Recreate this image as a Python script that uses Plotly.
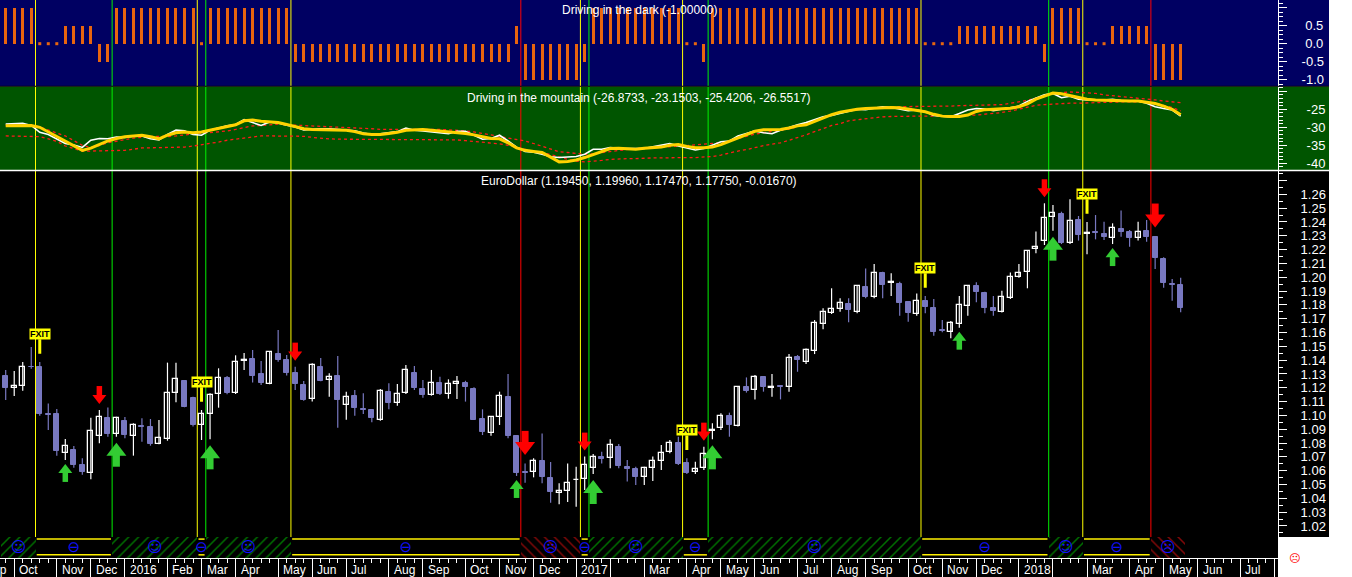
import pandas as pd
import plotly.graph_objects as go

# ---------------- data ----------------
DATES = pd.date_range("2015-09-25", periods=139, freq="W-FRI")

OPEN = [1.1285, 1.1196, 1.1215, 1.1353, 1.1350, 1.1010, 1.1010, 1.0730, 1.0750, 1.0641,
        1.0586, 1.0854, 1.0981, 1.0863, 1.0960, 1.0854, 1.0924, 1.0916, 1.0793, 1.0827,
        1.1160, 1.1249, 1.1126, 1.0928, 1.1008, 1.1153, 1.1271, 1.1160, 1.1391, 1.1408,
        1.1300, 1.1230, 1.1444, 1.1401, 1.1309, 1.1220, 1.1116, 1.1350, 1.1256, 1.1285,
        1.1073, 1.1140, 1.1046, 1.1039, 1.0967, 1.1167, 1.1087, 1.1160, 1.1307, 1.1191,
        1.1148, 1.1232, 1.1155, 1.1225, 1.1232, 1.1191, 1.0972, 1.0875, 1.0986, 1.1133,
        1.0851, 1.0588, 1.0593, 1.0668, 1.0547, 1.0436, 1.0453, 1.0530, 1.0537, 1.0617,
        1.0697, 1.0690, 1.0774, 1.0624, 1.0610, 1.0557, 1.0617, 1.0673, 1.0738, 1.0798,
        1.0653, 1.0593, 1.0617, 1.0890, 1.0907, 1.0996, 1.0924, 1.1203, 1.1184, 1.1275,
        1.1201, 1.1210, 1.1203, 1.1420, 1.1389, 1.1469, 1.1662, 1.1739, 1.1768, 1.1804,
        1.1751, 1.1927, 1.1854, 1.2033, 1.1956, 1.1951, 1.1818, 1.1731, 1.1827, 1.1775,
        1.1616, 1.1606, 1.1662, 1.1792, 1.1936, 1.1888, 1.1775, 1.1751, 1.1847, 1.2004,
        1.2035, 1.2202, 1.2265, 1.2433, 1.2455, 1.2250, 1.2414, 1.2311, 1.2325, 1.2313,
        1.2281, 1.2346, 1.2330, 1.2281, 1.2334, 1.2293, 1.2129, 1.1951, 1.1945]
HIGH = [1.1329, 1.1321, 1.1387, 1.1495, 1.1387, 1.1087, 1.1046, 1.0829, 1.0779, 1.0690,
        1.0984, 1.1039, 1.1058, 1.0991, 1.0989, 1.0943, 1.0979, 1.0974, 1.0967, 1.1382,
        1.1382, 1.1256, 1.1136, 1.1039, 1.1160, 1.1341, 1.1285, 1.1435, 1.1452, 1.1473,
        1.1394, 1.1461, 1.1618, 1.1437, 1.1353, 1.1249, 1.1377, 1.1415, 1.1305, 1.1430,
        1.1172, 1.1184, 1.1160, 1.1044, 1.1191, 1.1232, 1.1227, 1.1365, 1.1358, 1.1256,
        1.1329, 1.1280, 1.1261, 1.1285, 1.1251, 1.1203, 1.1044, 1.0991, 1.1172, 1.1300,
        1.0851, 1.0653, 1.0690, 1.0870, 1.0663, 1.0509, 1.0653, 1.0629, 1.0702, 1.0721,
        1.0738, 1.0827, 1.0793, 1.0677, 1.0629, 1.0629, 1.0702, 1.0786, 1.0822, 1.0846,
        1.0690, 1.0665, 1.0774, 1.0943, 1.1015, 1.1020, 1.1213, 1.1275, 1.1292, 1.1285,
        1.1300, 1.1220, 1.1444, 1.1437, 1.1485, 1.1690, 1.1775, 1.1920, 1.1847, 1.1847,
        1.1944, 1.2064, 1.2096, 1.2040, 1.2028, 1.1968, 1.1823, 1.1883, 1.1864, 1.1842,
        1.1690, 1.1683, 1.1864, 1.1944, 1.1963, 1.1895, 1.1864, 1.1903, 1.2035, 1.2096,
        1.2197, 1.2330, 1.2535, 1.2522, 1.2474, 1.2564, 1.2443, 1.2400, 1.2450, 1.2402,
        1.2390, 1.2482, 1.2342, 1.2402, 1.2414, 1.2298, 1.2144, 1.1987, 1.1996]
LOW = [1.1112, 1.1140, 1.1179, 1.1338, 1.0998, 1.0894, 1.0709, 1.0678, 1.0622, 1.0571,
       1.0538, 1.0798, 1.0846, 1.0846, 1.0834, 1.0709, 1.0810, 1.0781, 1.0791, 1.0817,
       1.1095, 1.1059, 1.0919, 1.0822, 1.0827, 1.1056, 1.1153, 1.1155, 1.1329, 1.1239,
       1.1220, 1.1225, 1.1389, 1.1288, 1.1184, 1.1107, 1.1100, 1.1247, 1.1136, 1.0911,
       1.0969, 1.0998, 1.1010, 1.0950, 1.0962, 1.1044, 1.1070, 1.1155, 1.1184, 1.1128,
       1.1143, 1.1148, 1.1121, 1.1119, 1.1100, 1.0967, 1.0858, 1.0853, 1.0931, 1.0834,
       1.0562, 1.0513, 1.0552, 1.0509, 1.0369, 1.0357, 1.0374, 1.0340, 1.0460, 1.0576,
       1.0653, 1.0617, 1.0617, 1.0521, 1.0497, 1.0497, 1.0526, 1.0605, 1.0726, 1.0641,
       1.0576, 1.0576, 1.0605, 1.0827, 1.0894, 1.0846, 1.0919, 1.1165, 1.1116, 1.1172,
       1.1136, 1.1116, 1.1172, 1.1316, 1.1372, 1.1444, 1.1623, 1.1734, 1.1751, 1.1674,
       1.1739, 1.1847, 1.1847, 1.1847, 1.1864, 1.1722, 1.1678, 1.1722, 1.1739, 1.1577,
       1.1601, 1.1558, 1.1635, 1.1722, 1.1818, 1.1739, 1.1722, 1.1744, 1.1842, 1.1997,
       1.1920, 1.2173, 1.2233, 1.2337, 1.2240, 1.2240, 1.2265, 1.2166, 1.2274, 1.2269,
       1.2240, 1.2293, 1.2221, 1.2265, 1.2257, 1.2060, 1.1924, 1.1830, 1.1747]
CLOSE = [1.1201, 1.1213, 1.1353, 1.1348, 1.1013, 1.1005, 1.0745, 1.0776, 1.0641, 1.0593,
         1.0885, 1.0991, 1.0868, 1.0979, 1.0858, 1.0928, 1.0916, 1.0793, 1.0834, 1.1160,
         1.1261, 1.1063, 1.0931, 1.1008, 1.1150, 1.1268, 1.1165, 1.1384, 1.1398, 1.1288,
         1.1237, 1.1457, 1.1401, 1.1309, 1.1230, 1.1112, 1.1362, 1.1251, 1.1276, 1.1114,
         1.1136, 1.1056, 1.1039, 1.0979, 1.1174, 1.1087, 1.1157, 1.1326, 1.1201, 1.1148,
         1.1232, 1.1153, 1.1225, 1.1242, 1.1208, 1.0969, 1.0882, 1.0986, 1.1140, 1.0851,
         1.0586, 1.0583, 1.0668, 1.0557, 1.0446, 1.0455, 1.0513, 1.0535, 1.0639, 1.0697,
         1.0682, 1.0784, 1.0636, 1.0610, 1.0557, 1.0622, 1.0668, 1.0730, 1.0798, 1.0649,
         1.0586, 1.0610, 1.0721, 1.0897, 1.0996, 1.0931, 1.1203, 1.1179, 1.1280, 1.1203,
         1.1206, 1.1203, 1.1418, 1.1401, 1.1473, 1.1666, 1.1751, 1.1768, 1.1816, 1.1763,
         1.1936, 1.1859, 1.2033, 1.1944, 1.1963, 1.1816, 1.1744, 1.1827, 1.1787, 1.1606,
         1.1609, 1.1666, 1.1799, 1.1936, 1.1895, 1.1775, 1.1758, 1.1854, 1.1999, 1.2033,
         1.2190, 1.2221, 1.2426, 1.2467, 1.2245, 1.2409, 1.2303, 1.2318, 1.2318, 1.2293,
         1.2354, 1.2330, 1.2286, 1.2330, 1.2293, 1.2137, 1.1961, 1.1946, 1.1775]

# "Driving in the dark" histogram values
DARK = [1, 1, 1, 1, 0, 0, 0, .5, .5, .5,
        .5, -.5, -.5, 1, 1, 1, 1, 1, 1, 1,
        1, 1, 1, 0, 1, 1, 1, 1, 1, 1,
        1, 1, 1, 1, -.5, -.5, -.5, -.5, -.5, -.5,
        -.5, -.5, -.5, -.5, -.5, -.5, -.5, -.5, -.5, -.5,
        -.5, -.5, -.5, -.5, -.5, -.5, -.5, -.5, -.5, -.5,
        .5, -1, -1, -1, -1, -1, -1, -1, -.5, 1,
        1, 1, 1, 1, 1, 1, 1, 1, 1, 1,
        0, 0, -.5, 1, 1, 1, 1, 1, 1, 1,
        1, 1, 1, 1, 1, 1, 1, 1, 1, 1,
        1, 1, 1, 1, 1, 1, 1, 1, 0, 0,
        0, 0, .5, .5, .5, .5, .5, .5, .5, .5,
        .5, .5, -.5, 1, 1, 1, 1, 0, 0, 0,
        .5, .5, .5, .5, .5, -1, -1, -1, -1]

# "Driving in the mountain" lines
MTN_WHITE = [-29.1, -29.0, -28.9, -29.5, -31.4, -32.0, -33.3, -34.5, -34.9, -35.6,
             -33.6, -33.1, -33.2, -32.7, -32.8, -32.4, -32.4, -33.2, -33.5, -32.0,
             -30.8, -31.0, -32.0, -32.2, -30.8, -30.1, -29.6, -29.2, -27.9, -28.7,
             -29.5, -28.5, -28.8, -29.4, -29.9, -30.7, -30.5, -30.4, -30.4, -30.6,
             -30.7, -31.0, -31.6, -32.0, -31.8, -31.6, -31.2, -30.2, -30.8, -31.0,
             -31.2, -31.5, -31.8, -31.1, -31.1, -32.2, -33.3, -33.1, -32.2, -33.8,
             -35.5, -36.7, -36.9, -37.5, -38.2, -38.4, -38.3, -38.1, -37.5, -36.1,
             -36.1, -35.6, -35.8, -35.9, -35.9, -35.9, -35.4, -34.9, -34.5, -35.2,
             -35.8, -36.3, -35.9, -34.9, -34.0, -33.8, -32.4, -31.7, -31.0, -31.5,
             -31.8, -30.8, -30.0, -29.3, -28.7, -27.8, -27.1, -26.7, -26.1, -25.6,
             -25.0, -25.1, -24.6, -24.3, -24.5, -25.0, -25.4, -25.2, -25.7, -26.7,
             -26.9, -27.1, -26.2, -25.2, -24.8, -24.9, -25.4, -25.0, -24.5, -24.1,
             -22.8, -21.9, -21.0, -20.6, -21.8, -21.4, -22.2, -22.4, -22.5, -22.4,
             -22.2, -22.6, -22.7, -22.7, -23.3, -24.3, -24.8, -25.2, -26.87]
MTN_YELLOW = [-29.6, -29.6, -29.5, -29.5, -30.0, -31.3, -32.6, -33.8, -35.0, -36.4,
              -35.8, -34.8, -33.8, -33.1, -32.6, -32.4, -32.2, -32.6, -33.2, -32.2,
              -31.5, -31.3, -31.5, -31.3, -30.8, -30.2, -29.8, -29.3, -28.2, -28.0,
              -28.3, -28.5, -28.7, -29.2, -29.7, -30.4, -30.6, -30.6, -30.6, -30.6,
              -30.8, -31.2, -31.8, -32.0, -32.0, -31.7, -31.4, -30.8, -30.6, -30.6,
              -30.8, -31.0, -31.3, -31.5, -31.7, -32.1, -32.6, -33.1, -33.2, -34.3,
              -35.7, -36.4, -36.7, -37.0, -38.3, -39.6, -39.5, -39.1, -38.4, -37.5,
              -36.7, -35.9, -35.8, -35.9, -36.1, -35.8, -35.7, -35.5, -35.0, -34.8,
              -35.3, -35.7, -35.7, -35.5, -34.8, -33.9, -32.9, -31.9, -31.1, -30.7,
              -30.6, -30.6, -30.2, -29.6, -29.3, -28.3, -27.4, -26.5, -25.8, -25.3,
              -25.0, -24.8, -24.7, -24.5, -24.5, -24.6, -25.0, -25.2, -25.7, -26.4,
              -26.9, -27.0, -27.0, -26.6, -25.6, -25.1, -25.0, -24.9, -24.7, -24.3,
              -23.5, -22.2, -21.3, -20.5, -20.7, -21.2, -21.8, -22.2, -22.4, -22.5,
              -22.7, -22.7, -22.7, -22.7, -23.0, -23.4, -24.1, -25.0, -26.55]
MTN_RED_A = [-29.5, -29.5, -29.5, -29.5, -29.9, -30.8, -31.6, -32.4, -33.7, -35.0,
             -35.6, -35.1, -34.3, -33.8, -33.3, -33.0, -32.8, -32.5, -32.5, -32.6,
             -32.4, -32.1, -31.9, -31.6, -31.5, -31.3, -31.0, -30.6, -30.1, -29.6,
             -29.5, -29.2, -29.1, -29.3, -29.4, -29.5, -29.6, -29.6, -29.8, -30.0,
             -30.1, -30.2, -30.3, -30.4, -30.6, -30.6, -30.5, -30.4, -30.4, -30.5,
             -30.6, -30.6, -30.7, -30.8, -31.0, -31.3, -31.7, -32.0, -32.4, -32.9,
             -33.3, -33.8, -34.5, -35.2, -36.1, -36.8, -37.0, -37.3, -37.5, -37.3,
             -37.0, -36.8, -36.5, -36.2, -35.9, -35.8, -35.7, -35.6, -35.5, -35.3,
             -35.1, -34.9, -34.7, -34.5, -34.3, -33.7, -33.1, -32.4, -31.9, -31.5,
             -31.2, -30.9, -30.5, -29.8, -29.2, -28.3, -27.4, -26.6, -25.8, -25.4,
             -25.1, -24.8, -24.5, -24.4, -24.3, -24.3, -24.2, -24.2, -24.1, -24.1,
             -24.1, -24.1, -24.0, -23.9, -23.9, -23.8, -23.7, -23.7, -23.3, -23.0,
             -22.5, -21.9, -21.3, -20.6, -20.4, -20.2, -20.3, -20.4, -20.6, -21.0,
             -21.2, -21.4, -21.6, -21.8, -22.1, -22.4, -22.7, -22.9, -23.15]
MTN_RED_B = [-32.4, -32.4, -32.4, -32.4, -32.6, -33.2, -33.9, -35.2, -35.9, -36.6,
             -36.6, -36.6, -36.6, -36.6, -36.4, -36.1, -35.7, -35.7, -35.7, -35.7,
             -35.7, -35.5, -35.2, -34.9, -34.5, -34.1, -33.6, -33.3, -33.0, -32.6,
             -32.4, -32.4, -32.4, -32.4, -32.4, -32.5, -32.8, -33.1, -33.2, -33.3,
             -33.3, -33.4, -33.5, -33.5, -33.5, -33.5, -33.5, -33.5, -33.5, -33.5,
             -33.5, -33.5, -33.5, -33.5, -33.7, -33.9, -34.1, -34.3, -34.6, -35.0,
             -35.6, -36.3, -36.7, -37.0, -37.5, -38.2, -38.9, -39.4, -39.6, -39.5,
             -39.2, -38.9, -38.7, -38.7, -38.7, -38.5, -38.5, -38.5, -38.4, -38.4,
             -38.4, -38.4, -38.3, -38.1, -37.7, -37.1, -36.6, -36.2, -35.6, -35.1,
             -34.7, -34.3, -33.6, -32.9, -32.1, -31.2, -30.3, -29.5, -29.0, -28.2,
             -27.9, -27.6, -27.3, -27.1, -27.0, -26.9, -26.9, -26.9, -26.9, -26.9,
             -26.9, -26.9, -26.9, -26.7, -26.6, -26.4, -26.2, -25.9, -25.5, -24.9,
             -24.3, -23.9, -23.7, -23.5, -23.3, -23.3, -23.3, -23.2, -23.1, -23.0,
             -23.0, -22.9, -22.9, -22.9, -23.0, -23.3, -23.9, -24.5, -25.42]

# market state per bar: 1 long, 0 flat, -1 short
STATE = [1, 1, 1, 1, 0, 0, 0, 0, 0, 0,
         0, 0, 0, 1, 1, 1, 1, 1, 1, 1,
         1, 1, 1, 0, 1, 1, 1, 1, 1, 1,
         1, 1, 1, 1, 0, 0, 0, 0, 0, 0,
         0, 0, 0, 0, 0, 0, 0, 0, 0, 0,
         0, 0, 0, 0, 0, 0, 0, 0, 0, 0,
         0, -1, -1, -1, -1, -1, -1, -1, 0, 1,
         1, 1, 1, 1, 1, 1, 1, 1, 1, 1,
         0, 0, 0, 1, 1, 1, 1, 1, 1, 1,
         1, 1, 1, 1, 1, 1, 1, 1, 1, 1,
         1, 1, 1, 1, 1, 1, 1, 1, 0, 0,
         0, 0, 0, 0, 0, 0, 0, 0, 0, 0,
         0, 0, 0, 1, 1, 1, 1, 0, 0, 0,
         0, 0, 0, 0, 0, -1, -1, -1, -1]

# signal markers (1-based bar numbers)
BIG_UP_BARS = [14, 25, 70, 84, 124]
SMALL_UP_BARS = [8, 61, 113, 131]
BIG_DOWN_BARS = [62, 136]
SMALL_DOWN_BARS = [12, 35, 69, 83, 123]
FXIT_BARS = [5, 24, 81, 109, 128]

MONTH_TICKS = ["2015-09-04", "2015-10-02", "2015-11-06", "2015-12-04",
               "2016-01-01", "2016-02-05", "2016-03-04", "2016-04-01", "2016-05-06", "2016-06-03",
               "2016-07-01", "2016-08-05", "2016-09-02", "2016-10-07", "2016-11-04", "2016-12-02",
               "2017-01-06", "2017-02-03", "2017-03-03", "2017-04-07", "2017-05-05", "2017-06-02",
               "2017-07-07", "2017-08-04", "2017-09-01", "2017-10-06", "2017-11-03", "2017-12-01",
               "2018-01-05", "2018-02-02", "2018-03-02", "2018-04-06", "2018-05-04", "2018-06-01",
               "2018-07-06", "2018-08-03"]
MONTH_LABELS = ["Sep", "Oct", "Nov", "Dec",
                "2016", "Feb", "Mar", "Apr", "May", "Jun",
                "Jul", "Aug", "Sep", "Oct", "Nov", "Dec",
                "2017", "", "Mar", "Apr", "May", "Jun",
                "Jul", "Aug", "Sep", "Oct", "Nov", "Dec",
                "2018", "", "Mar", "Apr", "May", "Jun",
                "Jul", "Aug"]

PRICE_TICKS = [1.02, 1.03, 1.04, 1.05, 1.06, 1.07, 1.08, 1.09, 1.10, 1.11, 1.12, 1.13, 1.14,
               1.15, 1.16, 1.17, 1.18, 1.19, 1.20, 1.21, 1.22, 1.23, 1.24, 1.25, 1.26, 1.27]
MTN_TICKS = [-40, -35, -30, -25, -20]
DARK_TICKS = [-1.0, -0.5, 0.0, 0.5, 1.0]

TITLE_DARK = "Driving in the dark (-1.00000)"
TITLE_MTN = "Driving in the mountain (-26.8733, -23.1503, -25.4206, -26.5517)"
TITLE_MAIN = "EuroDollar (1.19450, 1.19960, 1.17470, 1.17750, -0.01670)"

# ---------------- geometry helpers ----------------
W, H = 1352, 577
PLOT_W, PLOT_H = 1278, 558
RIGHT_EDGE = 1329
N = len(DATES)

X_LEFT = DATES[0] - pd.Timedelta(days=4.69)
SPAN_DAYS = 1050.7
X_RIGHT = X_LEFT + pd.Timedelta(days=SPAN_DAYS)
DAY_PX = PLOT_W / SPAN_DAYS
MS_DAY = 86400000


def py(y):
    return 1 - y / PLOT_H


def date_frac(d):
    return (pd.Timestamp(d) - X_LEFT) / (X_RIGHT - X_LEFT)


Y_MAIN = [1.01203, 1.27686]
PPX = (Y_MAIN[1] - Y_MAIN[0]) / (537 - 171)

FONT = "Liberation Sans, Arial, sans-serif"
NAVY = "#000062"
GREEN_BG = "#005500"
CANDLE_BLUE = "#7878C0"

fig = go.Figure()

# ---------------- top panel: bars ----------------
nz = [i for i in range(N) if DARK[i] != 0]
zz = [i for i in range(N) if DARK[i] == 0]
fig.add_trace(go.Bar(x=[DATES[i] for i in nz], y=[DARK[i] for i in nz], yaxis="y",
                     width=3 / DAY_PX * MS_DAY, marker=dict(color="#E8650E", line=dict(width=0)),
                     hoverinfo="skip", showlegend=False))
fig.add_trace(go.Scatter(x=[DATES[i] for i in zz], y=[DARK[i] for i in zz], yaxis="y", mode="markers",
                         marker=dict(symbol="square", size=3, color="#E8650E", line=dict(width=0)),
                         hoverinfo="skip", showlegend=False))

# ---------------- middle panel: lines ----------------
for series in (MTN_RED_A, MTN_RED_B):
    fig.add_trace(go.Scatter(x=DATES, y=series, yaxis="y2", mode="lines",
                             line=dict(color="#FF1A1A", width=1.3, dash="3px,3px"),
                             hoverinfo="skip", showlegend=False))
fig.add_trace(go.Scatter(x=DATES, y=MTN_WHITE, yaxis="y2", mode="lines",
                         line=dict(color="#FFFFFF", width=1.6), hoverinfo="skip", showlegend=False))
fig.add_trace(go.Scatter(x=DATES, y=MTN_YELLOW, yaxis="y2", mode="lines",
                         line=dict(color="#FFD200", width=3), hoverinfo="skip", showlegend=False))

# ---------------- main panel: candles ----------------
up = [i for i in range(N) if CLOSE[i] >= OPEN[i]]
dn = [i for i in range(N) if CLOSE[i] < OPEN[i]]


def wick_xy(idx):
    xs, ys = [], []
    for i in idx:
        xs += [DATES[i], DATES[i], None]
        ys += [LOW[i], HIGH[i], None]
    return xs, ys


for idx, col in ((up, "#FFFFFF"), (dn, CANDLE_BLUE)):
    wx, wy = wick_xy(idx)
    fig.add_trace(go.Scatter(x=wx, y=wy, yaxis="y3", mode="lines", line=dict(color=col, width=1.2),
                             hoverinfo="skip", showlegend=False))

BODY_W = 5 / DAY_PX * MS_DAY
fig.add_trace(go.Bar(x=[DATES[i] for i in up], y=[CLOSE[i] - OPEN[i] for i in up],
                     base=[OPEN[i] for i in up], yaxis="y3", width=BODY_W,
                     marker=dict(color="#000000", line=dict(color="#FFFFFF", width=1.3)),
                     hoverinfo="skip", showlegend=False))
fig.add_trace(go.Bar(x=[DATES[i] for i in dn], y=[OPEN[i] - CLOSE[i] for i in dn],
                     base=[CLOSE[i] for i in dn], yaxis="y3", width=BODY_W,
                     marker=dict(color=CANDLE_BLUE, line=dict(color=CANDLE_BLUE, width=1)),
                     hoverinfo="skip", showlegend=False))


# ---------------- arrows ----------------
def add_arrows(bars, direction, big, color):
    head = 17.3 if big else 12.1
    r = head / 2
    shaft_w = 7 if big else 5.5
    gap = (6 if big else 4) if direction == "up" else (8.5 if big else 6)
    total = 24 if big else 18
    shaft_from = 1.3 * r
    shaft_len = total - shaft_from
    xs = [DATES[b - 1] for b in bars]
    if direction == "up":
        tips = [LOW[b - 1] - gap * PPX for b in bars]
        hc = [t - r * PPX for t in tips]
        sc = [t - (shaft_from + shaft_len / 2) * PPX for t in tips]
        sym = "triangle-up"
    else:
        tips = [HIGH[b - 1] + gap * PPX for b in bars]
        hc = [t + r * PPX for t in tips]
        sc = [t + (shaft_from + shaft_len / 2) * PPX for t in tips]
        sym = "triangle-down"
    fig.add_trace(go.Scatter(x=xs, y=sc, yaxis="y3", mode="markers",
                             marker=dict(symbol="line-ns-open", size=shaft_len / 1.4, color=color,
                                         line=dict(width=shaft_w, color=color)),
                             hoverinfo="skip", showlegend=False))
    fig.add_trace(go.Scatter(x=xs, y=hc, yaxis="y3", mode="markers",
                             marker=dict(symbol=sym, size=head, color=color, line=dict(width=0)),
                             hoverinfo="skip", showlegend=False))


add_arrows(BIG_UP_BARS, "up", True, "#33CC33")
add_arrows(SMALL_UP_BARS, "up", False, "#33CC33")
add_arrows(BIG_DOWN_BARS, "down", True, "#FF0000")
add_arrows(SMALL_DOWN_BARS, "down", False, "#FF0000")

# ---------------- state band ----------------
runs = []
s = 0
for i in range(1, N + 1):
    if i == N or STATE[i] != STATE[s]:
        runs.append((s, i - 1, STATE[s]))
        s = i

half = pd.Timedelta(days=3.5)
for st, shape, fg in ((1, "/", "#00DD00"), (-1, "\\", "#FF1010")):
    sel = [r for r in runs if r[2] == st]
    cx, wd = [], []
    for a, b, _ in sel:
        x0 = DATES[a] - half
        x1 = DATES[b] + half
        cx.append(x0 + (x1 - x0) / 2)
        wd.append((x1 - x0).total_seconds() * 1000)
    fig.add_trace(go.Bar(x=cx, y=[1] * len(cx), base=[0] * len(cx), width=wd, yaxis="y4",
                         marker=dict(color="#000000", line=dict(width=0),
                                     pattern=dict(shape=shape, fgcolor=fg, bgcolor="#000000",
                                                  size=7, solidity=0.22)),
                         hoverinfo="skip", showlegend=False))

lx, ly = [], []
for a, b, st in runs:
    if st == 0:
        x0 = DATES[a] - half + pd.Timedelta(days=1)
        x1 = DATES[b] + half - pd.Timedelta(days=1)
        for lev in (0.9, 0.15):
            lx += [x0, x1, None]
            ly += [lev, lev, None]
fig.add_trace(go.Scatter(x=lx, y=ly, yaxis="y4", mode="lines", line=dict(color="#FFF000", width=1.5),
                         hoverinfo="skip", showlegend=False))

face = {1: "☺", 0: "⊖", -1: "☹"}
fx, ftxt = [], []
for a, b, st in runs:
    x0 = DATES[a] - half
    x1 = DATES[b] + half
    fx.append(x0 + (x1 - x0) / 2)
    ftxt.append(face[st])
fig.add_trace(go.Scatter(x=fx, y=[0.45] * len(fx), yaxis="y4", mode="text", text=ftxt,
                         textfont=dict(color="#1010FF", size=15, family="DejaVu Sans"),
                         hoverinfo="skip", showlegend=False))

# ---------------- shapes ----------------
shapes = []
xr = RIGHT_EDGE / PLOT_W
bgs = [(0, 86, NAVY, xr), (86.5, 170, GREEN_BG, xr), (170, 537, "#000000", xr), (537, 577, "#000000", 1)]
for y0, y1, col, xe in bgs:
    shapes.append(dict(type="rect", xref="paper", yref="paper", x0=0, x1=xe, y0=py(y1), y1=py(y0),
                       fillcolor=col, line=dict(width=0), layer="below"))
line_col = {1: "#00F000", 0: "#FFFF00", -1: "#FF0000"}
for a, b, st in runs[1:]:
    xl = DATES[a] - half
    shapes.append(dict(type="line", xref="x", yref="paper", x0=xl, x1=xl, y0=py(537), y1=1,
                       line=dict(color=line_col[st], width=1), layer="below"))
shapes.append(dict(type="line", xref="paper", yref="paper", x0=0, x1=xr, y0=py(86.3), y1=py(86.3),
                   line=dict(color="#000000", width=1), layer="above"))
shapes.append(dict(type="line", xref="paper", yref="paper", x0=0, x1=xr, y0=py(170.5), y1=py(170.5),
                   line=dict(color="#FFFFFF", width=1.5), layer="above"))

# ---------------- annotations ----------------
ann = []
for txt, y in ((TITLE_DARK, 10.5), (TITLE_MTN, 98), (TITLE_MAIN, 180.5)):
    ann.append(dict(text=txt, xref="paper", yref="paper", x=0.5, y=py(y), showarrow=False,
                    xanchor="center", yanchor="middle", font=dict(color="white", size=12, family=FONT)))
for d, lab in zip(MONTH_TICKS, MONTH_LABELS):
    if lab:
        ann.append(dict(text=lab, xref="paper", yref="paper", x=date_frac(d) + 3 / PLOT_W, y=py(570),
                        showarrow=False, xanchor="left", yanchor="middle",
                        font=dict(color="white", size=12, family=FONT)))
for b in FXIT_BARS:
    ann.append(dict(text="<b>FXIT</b>", x=DATES[b - 1], y=HIGH[b - 1] + 8.3 * PPX, xref="x", yref="y3",
                    showarrow=True, arrowhead=0, arrowwidth=3, arrowcolor="#FFFF00", ax=0, ay=-20,
                    standoff=0, bgcolor="#FFFF00", borderpad=0,
                    font=dict(color="black", size=9, family=FONT)))
ann.append(dict(text="☹", xref="paper", yref="paper", x=1302 / PLOT_W, y=py(567), showarrow=False,
                font=dict(color="#FF0000", size=11, family="DejaVu Sans")))

# ---------------- axes / layout ----------------
tickfont = dict(color="white", size=13, family=FONT)
week_ticks = pd.date_range("2015-09-04", "2018-08-10", freq="W-FRI")
in_range = [d for d in MONTH_TICKS if pd.Timestamp(d) >= X_LEFT]


def yax(domain, rng, tickvals, ticktext, minor_dtick, standoff):
    return dict(domain=domain, range=rng, anchor="x", side="right", showgrid=False, zeroline=False,
                showline=True, linecolor="white", linewidth=1, ticks="outside", ticklen=8,
                tickcolor="white", tickwidth=1, tickmode="array", tickvals=tickvals, ticktext=ticktext,
                tickfont=tickfont, ticklabelstandoff=standoff, fixedrange=True,
                minor=dict(dtick=minor_dtick, ticks="outside", ticklen=4, tickcolor="white",
                           showgrid=False))


fig.update_layout(
    width=W, height=H,
    margin=dict(l=0, r=W - PLOT_W, t=0, b=H - PLOT_H),
    paper_bgcolor="white", plot_bgcolor="rgba(0,0,0,0)",
    barmode="overlay", bargap=0, showlegend=False,
    xaxis=dict(type="date", range=[X_LEFT, X_RIGHT], domain=[0, 1], anchor="y4",
               showgrid=False, zeroline=False, showline=True, linecolor="white", linewidth=1,
               ticks="outside", ticklen=19, tickcolor="white", tickwidth=1, tickmode="array",
               tickvals=in_range, showticklabels=False, fixedrange=True,
               minor=dict(tickmode="array", tickvals=list(week_ticks), ticks="outside", ticklen=4,
                          tickcolor="white", showgrid=False)),
    yaxis=yax([py(86), 1], [-1.175, 1.214], DARK_TICKS,
              ["-1.0", "-0.5", "\u00a00.0", "\u00a00.5", ""], 0.125, 12),
    yaxis2=yax([py(170), py(86.5)], [-41.86, -18.67], MTN_TICKS,
               ["-40", "-35", "-30", "-25", ""], 1, 17),
    yaxis3=yax([py(537), py(171)], Y_MAIN, PRICE_TICKS,
               ["%.2f" % v for v in PRICE_TICKS[:-1]] + [""], 0.005, 11),
    yaxis4=dict(domain=[0, py(537)], range=[0, 1], anchor="x", visible=False, fixedrange=True),
    shapes=shapes,
    annotations=ann,
)

fig.write_html("out.html", config={"displayModeBar": False},
               post_script="document.body.style.margin='0';document.body.style.padding='0';"
                           "document.documentElement.style.overflow='hidden';")
